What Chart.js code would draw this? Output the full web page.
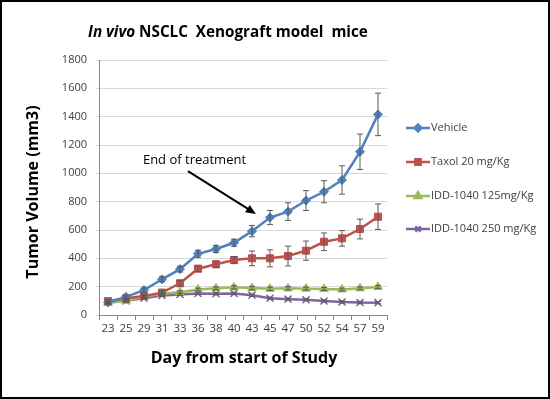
<!DOCTYPE html>
<html><head><meta charset="utf-8">
<script src="https://cdn.jsdelivr.net/npm/chart.js@4"></script>
<style>html,body{margin:0;padding:0;background:#fff}#wrap{width:550px;height:399px;position:relative}</style>
</head><body><div id="wrap"><canvas id="c" width="550" height="399"></canvas></div>
<script>
const days = ['23','25','29','31','33','36','38','40','43','45','47','50','52','54','57','59'];
const vehicle = [88,128,176,252,324,432,466,510,592,688,730,808,870,953,1152,1416];
const vehicleErr = [10,12,15,18,20,25,25,25,40,50,62,70,78,100,125,150];
const taxol = [98,118,134,158,224,327,358,388,400,400,416,454,517,541,607,694];
const taxolErr = [10,10,12,15,20,20,22,25,52,60,70,68,62,55,70,90];
const idd125 = [85,100,128,150,160,180,188,195,190,185,188,186,184,180,188,198];
const idd125Err = [8,8,8,8,10,10,10,12,12,12,12,10,10,10,10,10];
const idd250 = [90,100,118,138,145,152,150,152,140,118,112,108,99,92,88,87];
const idd250Err = [8,8,8,8,8,8,8,8,8,8,8,8,8,8,8,8];
const seriesNames = ['Vehicle','Taxol 20 mg/Kg','IDD-1040 125mg/Kg','IDD-1040 250 mg/Kg'];
const colors = ['#4F81BD','#C0504D','#9BBB59','#8064A2'];
const pointStyles = ['rectRot','rect','triangle','crossRot'];
const pointRadii = [4.5,5,5,5];
const errors = [vehicleErr, taxolErr, idd125Err, idd250Err];
const yTicksMax = 1800, yStep = 200;

const FONT = "'Open Sans', 'Liberation Sans', sans-serif";

const decor = {
  id:'decor',
  afterDatasetsDraw(chart){
    const ctx = chart.ctx, xs = chart.scales.x, ys = chart.scales.y;
    ctx.save();
    ctx.strokeStyle = '#595959'; ctx.lineWidth = 1;
    chart.data.datasets.forEach((ds,i)=>{
      ds.data.forEach((v,j)=>{
        const e = errors[i][j];
        const x = xs.getPixelForValue(j);
        const y1 = ys.getPixelForValue(v+e), y2 = ys.getPixelForValue(v-e);
        ctx.beginPath();
        ctx.moveTo(x,y1); ctx.lineTo(x,y2);
        ctx.moveTo(x-3,y1); ctx.lineTo(x+3,y1);
        ctx.moveTo(x-3,y2); ctx.lineTo(x+3,y2);
        ctx.stroke();
      });
    });
    ctx.restore();
  },
  afterDraw(chart){
    const ctx = chart.ctx, xs = chart.scales.x, ys = chart.scales.y;
    ctx.save();
    ctx.fillStyle = '#000'; ctx.textBaseline = 'middle';
    const t1 = 'In vivo', t2 = ' NSCLC  Xenograft model  mice';
    let fs = 17;
    ctx.font = `italic bold ${fs}px ${FONT}`; let w1 = ctx.measureText(t1).width;
    ctx.font = `bold ${fs}px ${FONT}`; let w2 = ctx.measureText(t2).width;
    const sc = 280/(w1+w2); fs = fs*sc;
    ctx.font = `italic bold ${fs}px ${FONT}`; w1 = ctx.measureText(t1).width;
    ctx.font = `bold ${fs}px ${FONT}`; w2 = ctx.measureText(t2).width;
    let tx = 88;
    ctx.font = `italic bold ${fs}px ${FONT}`; ctx.textAlign='left'; ctx.fillText(t1, tx, 33);
    ctx.font = `bold ${fs}px ${FONT}`; ctx.fillText(t2, tx+w1, 33);
    ctx.font = `bold 16px ${FONT}`; ctx.textAlign='center';
    ctx.fillText('Day from start of Study', 244, 358);
    ctx.save(); ctx.translate(33,192); ctx.rotate(-Math.PI/2);
    ctx.fillText('Tumor Volume (mm3)', 0, 0); ctx.restore();
    ctx.font = `13px ${FONT}`; ctx.textAlign='left'; ctx.fillStyle='#000';
    ctx.fillText('End of treatment', xs.getPixelForValue(1.94), ys.getPixelForValue(1090));
    const ax1 = xs.getPixelForValue(4.44), ay1 = ys.getPixelForValue(1016);
    const ax2 = xs.getPixelForValue(8.22), ay2 = ys.getPixelForValue(713);
    ctx.strokeStyle='#000'; ctx.lineWidth=2;
    ctx.beginPath(); ctx.moveTo(ax1,ay1); ctx.lineTo(ax2-4,ay2-2.6); ctx.stroke();
    const ang = Math.atan2(ay2-ay1, ax2-ax1);
    ctx.beginPath(); ctx.moveTo(ax2,ay2);
    ctx.lineTo(ax2-11*Math.cos(ang-0.4), ay2-11*Math.sin(ang-0.4));
    ctx.lineTo(ax2-11*Math.cos(ang+0.4), ay2-11*Math.sin(ang+0.4));
    ctx.closePath(); ctx.fillStyle='#000'; ctx.fill();
    const rows = [128,162,196,229];
    ctx.font = `11px ${FONT}`; ctx.textBaseline='middle';
    chart.data.datasets.forEach((ds,i)=>{
      const y = rows[i];
      ctx.strokeStyle = colors[i]; ctx.lineWidth = 2.5;
      ctx.beginPath(); ctx.moveTo(406,y); ctx.lineTo(430,y); ctx.stroke();
      ctx.fillStyle = colors[i];
      Chart.helpers.drawPoint(ctx, {pointStyle: pointStyles[i], radius: pointRadii[i]*0.75, borderWidth: 1.5}, 418, y);
      ctx.fillStyle = '#404040';
      ctx.fillText(ds.label, 431, y);
    });
    ctx.strokeStyle='#000'; ctx.lineWidth=2;
    ctx.strokeRect(1,1,548,397);
    ctx.restore();
  }
};

new Chart(document.getElementById('c'), {
  type:'line',
  data:{
    labels: days,
    datasets: [vehicle,taxol,idd125,idd250].map((d,i)=>({
      label: seriesNames[i], data: d,
      borderColor: colors[i], backgroundColor: colors[i],
      pointStyle: pointStyles[i], pointRadius: pointRadii[i],
      pointBorderColor: colors[i], pointBackgroundColor: colors[i],
      pointBorderWidth: i===3?1.5:1,
      borderWidth: 2.5, tension: 0
    }))
  },
  options:{
    responsive:false, animation:false,
    layout:{padding:{left:0,right:163,top:60,bottom:0}},
    plugins:{legend:{display:false}, title:{display:false}, tooltip:{enabled:false}},
    scales:{
      x:{
        offset:true,
        grid:{display:true, drawOnChartArea:false, drawTicks:true, tickLength:5, color:'#888', offset:true},
        border:{color:'#888'},
        ticks:{color:'#404040', font:{family:"'Open Sans', sans-serif", size:11.5}, padding:2, maxRotation:0, autoSkip:false},
        afterFit(s){ s.height = 84; }
      },
      y:{
        min:0, max:yTicksMax,
        grid:{color:'#d9d9d9', tickLength:3, lineWidth:1},
        border:{color:'#888'},
        ticks:{stepSize:yStep, color:'#404040', font:{family:"'Open Sans', sans-serif", size:11}, padding:9, callback:(v)=>String(v)},
        afterFit(s){ s.width = 99; }
      }
    }
  },
  plugins:[decor]
});
</script></body></html>
